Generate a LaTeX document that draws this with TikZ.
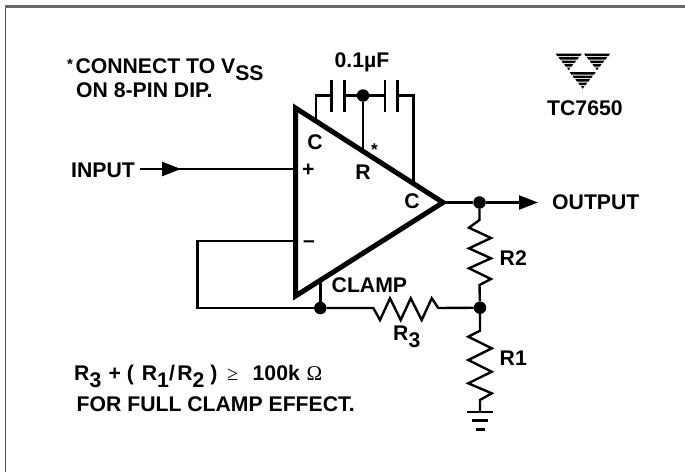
\documentclass[tikz,border=0pt]{standalone}
\usepackage{fontspec}
\setmainfont{Liberation Sans}
\newfontfamily\thinfont{Liberation Serif}
\usetikzlibrary{arrows.meta}
\newcommand{\dn}[1]{\raisebox{-7pt}{#1}}
\tikzset{
  x=1pt,y=-1pt,
  lab/.style={anchor=base west,inner sep=0pt,font=\fontsize{21.2}{24}\selectfont\bfseries},
  wire/.style={line width=2.4pt,line join=miter},
  plate/.style={line width=2.6pt},
  amp/.style={line width=5pt,line join=miter,miter limit=10},
  dot/.style={circle,fill=black,inner sep=0pt,minimum size=12.5pt},
  head/.style={-{Triangle[length=19pt,width=14pt]}},
  barline/.style={line width=2.8pt},
}
\begin{document}
\begin{tikzpicture}
\useasboundingbox (0,0) rectangle (685,472);
% frame
\draw[line width=1.5pt,color=black!70] (5.5,472) -- (5.5,6.5);
\draw[line width=2.2pt,color=black!60] (4.7,6.5) -- (685,6.5);
% amplifier
\coordinate (tl) at (295.5,108);
\coordinate (bl) at (295.5,296);
\coordinate (tip) at (443,202.5);
\draw[amp] (tl) -- (bl) -- (tip) -- cycle;
% junctions
\node[dot] (jc) at (363,95.5) {};
\node[dot] (jf) at (320.3,308) {};
\node[dot] (jo) at (479.5,202.5) {};
\node[dot] (jm) at (480,307.7) {};
% capacitors
\coordinate (c1a) at (331.7,95.5); \coordinate (c1b) at (344.3,95.5);
\coordinate (c2a) at (385,95.5); \coordinate (c2b) at (397.3,95.5);
\coordinate (cl) at (316,95.5); \coordinate (cle) at (316,121);
\coordinate (cr) at (413.3,95.5); \coordinate (cre) at (413.3,182);
\coordinate (cre2) at (363,151);
\draw[wire] (cle) -- (cl) -- (c1a);
\draw[wire] (c1b) -- (jc) -- (c2a);
\draw[wire] (c2b) -- (cr) -- (cre);
\draw[wire] (jc) -- (cre2);
\foreach \n in {c1a,c1b,c2a,c2b}{
  \draw[plate] (\n) ++(0,-15.5) -- ++(0,32);
}
% input
\coordinate (is) at (140,169);
\coordinate (ih) at (181,169);
\coordinate (im) at (170,169);
\coordinate (ie) at (295.5,169);
\draw[wire,head] (is) -- (ih);
\draw[wire] (im) -- (ie);
% feedback
\coordinate (ninv) at (295.5,240.7);
\coordinate (fl) at (197.3,240.7);
\coordinate (fb) at (197.3,308);
\coordinate (cu) at (320.3,280);
\draw[wire] (ninv) -- (fl) -- (fb) -- (jf);
\draw[wire] (cu) -- (jf);
% R3
\draw[wire] (jf) -- (373.3,308) -- (380,320) -- (390,298.3) -- (400.7,320) -- (410.7,298.3) -- (421.7,320) -- (431.7,298.3) -- (438.3,308) -- (jm);
% output
\coordinate (oe) at (538,202.5);
\draw[wire] (tip) -- (jo);
\draw[wire,head] (jo) -- (oe);
% R2
\draw[wire] (jo) -- (479.5,220) -- (469,227.7) -- (491,238) -- (469,248.3) -- (491,258.3) -- (469,268.3) -- (491,279) -- (479.5,285) -- (jm);
% R1
\coordinate (g1) at (480,412);
\coordinate (g1a) at (467.3,412); \coordinate (g1b) at (493.3,412);
\coordinate (g2a) at (472,420.7); \coordinate (g2b) at (488.3,420.7);
\coordinate (g3a) at (476,429.3); \coordinate (g3b) at (485,429.3);
\draw[wire] (jm) -- (480,330.7) -- (468.3,336.7) -- (491.7,348.3) -- (468.3,360) -- (491.7,371.7) -- (468.3,383.3) -- (491.7,393.3) -- (480,400) -- (g1);
\draw[barline] (g1a) -- (g1b);
\draw[barline] (g2a) -- (g2b);
\draw[barline] (g3a) -- (g3b);
% logo
\foreach \cx/\ty/\hw/\n in {568.7/54/13.7/8, 597/54/13.7/8, 582.7/72.5/13.7/8}{
  \foreach \i in {0,...,4}{
    \pgfmathsetmacro{\yy}{\ty+0.8+\i*3.5}
    \pgfmathsetmacro{\ww}{\hw*(1-(\i*3.5+0.8)/17)}
    \fill (\cx-\ww,\yy-1.3) -- (\cx+\ww,\yy-1.3) -- (\cx+\ww-1.6,\yy+1.3) -- (\cx-\ww+1.6,\yy+1.3) -- cycle;
  }
}
% labels
\node[lab] (tn1) at (67,73) {\raisebox{4pt}{\fontsize{15}{15}\selectfont *}\hspace{2.5pt}CONNECT TO V\dn{SS}};
\node[lab] (tn2) at (76,97.5) {ON 8-PIN DIP.};
\node[lab,anchor=base] (cap) at (362,67) {0.1µF};
\node[lab] (tc) at (547,115) {TC7650};
\node[lab] (inp) at (71,177.5) {INPUT};
\node[lab] (out) at (552,209.5) {OUTPUT};
\node[lab] (plus) at (302,176) {+};
\node[lab] (minus) at (303,247) {–};
\node[lab,anchor=base] (c1) at (315,149) {C};
\node[lab,anchor=base] (rr) at (363,179) {R};
\node[lab,anchor=base] (c2) at (412,208) {C};
\node[lab,font=\fontsize{17}{17}\selectfont\bfseries,anchor=base] (st) at (374.5,155) {*};
\node[lab] (clamp) at (331.5,292.7) {CLAMP};
\node[lab] (r3) at (393,340.5) {R\dn{3}};
\node[lab] (r2) at (499.5,265) {R2};
\node[lab] (r1) at (499.5,365) {R1};
\node[lab] (f1) at (74,380) {R\dn{3}\hspace{1.5pt} + ( \hspace{2pt}R\dn{1}/\hspace{2.5pt}R\dn{2} ) };
\node[lab,font=\fontsize{20}{20}\selectfont\thinfont] (ge) at (227,380) {≥};
\node[lab] (f2) at (252.5,380) {100k};
\node[lab,font=\fontsize{21}{21}\selectfont\thinfont] (om) at (306.5,380) {Ω};
\node[lab] (f3) at (76.5,411) {FOR FULL CLAMP EFFECT.};
\end{tikzpicture}
\end{document}
